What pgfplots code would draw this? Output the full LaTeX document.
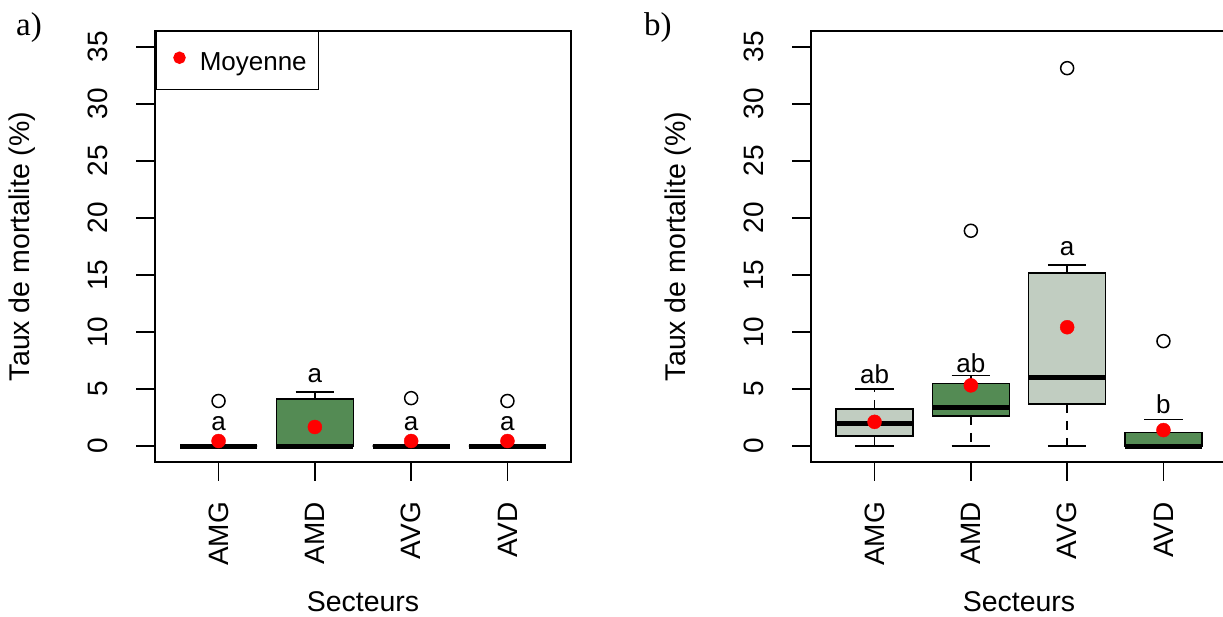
\documentclass[border=0pt]{standalone}
\usepackage{fontspec}
\setmainfont{Liberation Sans}
\newfontfamily\seriffont{Liberation Serif}
\usepackage{pgfplots}
\pgfplotsset{compat=1.18}
\usepgfplotslibrary{statistics}
\definecolor{lightg}{HTML}{C1CDC1}
\definecolor{darkg}{HTML}{548B54}
\newcommand{\fs}[1]{\fontsize{#1}{#1}\selectfont}
\tikzset{lett/.style={font=\fs{26}, inner sep=0pt, anchor=center}}
\pgfplotsset{
  rbox/.style={
    scale only axis, width=416pt, height=431pt,
    xmin=0.34, xmax=4.66, ymin=-1.4, ymax=36.4,
    xtick={1,2,3,4}, xticklabels={AMG,AMD,AVG,AVD},
    ytick={0,5,...,35},
    tick pos=left,
    tick align=outside, major tick length=19pt,
    major tick style={line width=1.6pt, black},
    axis line style={line width=1.6pt, black},
    /pgf/number format/assume math mode=true,
    tick label style={font=\fs{28}},
    yticklabel style={rotate=90, anchor=south, inner sep=0pt},
    yticklabel shift=28pt,
    xticklabel style={rotate=90, anchor=east, inner sep=0pt},
    xticklabel shift=21pt,
    every axis x label/.style={at={(axis description cs:0.5,-0.3248)}, anchor=center, font=\fs{28.5}},
    every axis y label/.style={at={(axis description cs:-0.3197,0.5)}, anchor=center, rotate=90, font=\fs{28.5}},
    xlabel={Secteurs},
    ylabel={Taux de mortalite (\%)},
    boxplot/draw direction=y,
    boxplot/box extend=0.8,
    boxplot/whisker extend=0.4,
    boxplot/every median/.style={line width=5pt},
    boxplot/draw/lower whisker/.code={%
      \draw[black, line width=1.5pt, dash pattern=on 9pt off 8pt]
        (boxplot box cs:\pgfplotsboxplotvalue{lower quartile},0.5) --
        (boxplot box cs:\pgfplotsboxplotvalue{lower whisker},0.5);
      \draw[black, line width=1.5pt, solid]
        (boxplot whisker cs:\pgfplotsboxplotvalue{lower whisker},0) --
        (boxplot whisker cs:\pgfplotsboxplotvalue{lower whisker},1);
    },
    boxplot/draw/upper whisker/.code={%
      \draw[black, line width=1.5pt, dash pattern=on 9pt off 8pt]
        (boxplot box cs:\pgfplotsboxplotvalue{upper quartile},0.5) --
        (boxplot box cs:\pgfplotsboxplotvalue{upper whisker},0.5);
      \draw[black, line width=1.5pt, solid]
        (boxplot whisker cs:\pgfplotsboxplotvalue{upper whisker},0) --
        (boxplot whisker cs:\pgfplotsboxplotvalue{upper whisker},1);
    },
  },
  bx/.style={draw=black, line width=1.5pt, mark=o, mark size=6.5pt,
    mark options={solid, line width=1.5pt, draw=black, fill=none}},
  meanpt/.style={only marks, mark=*, mark size=7pt, red, mark options={draw=red, fill=red}},
}
\begin{document}
\begin{tikzpicture}
\useasboundingbox (0,0) rectangle (1223pt,617pt);
% ---------- panel a ----------
\begin{axis}[rbox, at={(155pt,155pt)}, anchor=south west,
  legend style={at={(axis description cs:0,1)}, anchor=north west, draw=black,
    line width=1.5pt, inner xsep=12pt, inner ysep=11pt, font=\fs{26},
    nodes={inner sep=0pt, text height=27.7pt, text depth=8.3pt},
    /tikz/column sep=14pt},
  legend cell align=left]
\addlegendimage{legend image code/.code={\path (0pt,0pt) (16pt,0pt); \fill[red] (11pt,3pt) circle (5.5pt);}}
\addlegendentry{Moyenne}
\addplot[bx, boxplot/every box/.style={fill=lightg}, boxplot prepared={draw position=1,
  lower whisker=0, lower quartile=0, median=0, upper quartile=0, upper whisker=0}]
  table[row sep=\\, y index=0] {y\\ 3.95\\};
\addplot[bx, boxplot/every box/.style={fill=darkg}, boxplot prepared={draw position=2,
  lower whisker=0, lower quartile=0, median=0, upper quartile=4.12, upper whisker=4.74}]
  coordinates {};
\addplot[bx, boxplot/every box/.style={fill=lightg}, boxplot prepared={draw position=3,
  lower whisker=0, lower quartile=0, median=0, upper quartile=0, upper whisker=0}]
  table[row sep=\\, y index=0] {y\\ 4.2\\};
\addplot[bx, boxplot/every box/.style={fill=darkg}, boxplot prepared={draw position=4,
  lower whisker=0, lower quartile=0, median=0, upper quartile=0, upper whisker=0}]
  table[row sep=\\, y index=0] {y\\ 3.95\\};
\addplot[meanpt] coordinates {(1,0.44) (2,1.67) (3,0.44) (4,0.44)};
\node[lett] at (axis cs:1,2.0) {a};
\node[lett] at (axis cs:2,6.2) {a};
\node[lett] at (axis cs:3,2.0) {a};
\node[lett] at (axis cs:4,2.0) {a};
\end{axis}
% ---------- panel b ----------
\begin{axis}[rbox, at={(811pt,155pt)}, anchor=south west]
\addplot[bx, boxplot/every box/.style={fill=lightg}, boxplot prepared={draw position=1,
  lower whisker=0, lower quartile=0.87, median=1.98, upper quartile=3.23, upper whisker=4.98}]
  coordinates {};
\addplot[bx, boxplot/every box/.style={fill=darkg}, boxplot prepared={draw position=2,
  lower whisker=0, lower quartile=2.65, median=3.35, upper quartile=5.47, upper whisker=6.2}]
  table[row sep=\\, y index=0] {y\\ 18.88\\};
\addplot[bx, boxplot/every box/.style={fill=lightg}, boxplot prepared={draw position=3,
  lower whisker=0, lower quartile=3.7, median=6.05, upper quartile=15.16, upper whisker=15.86}]
  table[row sep=\\, y index=0] {y\\ 33.14\\};
\addplot[bx, boxplot/every box/.style={fill=darkg}, boxplot prepared={draw position=4,
  lower whisker=0, lower quartile=0, median=0, upper quartile=1.2, upper whisker=2.33}]
  table[row sep=\\, y index=0] {y\\ 9.2\\};
\addplot[meanpt] coordinates {(1,2.12) (2,5.32) (3,10.42) (4,1.4)};
\node[lett] at (axis cs:1,6.3) {ab};
\node[lett] at (axis cs:2,7.3) {ab};
\node[lett] at (axis cs:3,17.3) {a};
\node[lett] at (axis cs:4,3.67) {b};
\end{axis}
\node[font=\seriffont\fs{33}, anchor=west, inner sep=0pt] at (16pt,589pt) {a)};
\node[font=\seriffont\fs{33}, anchor=west, inner sep=0pt] at (644pt,589pt) {b)};
\end{tikzpicture}
\end{document}
